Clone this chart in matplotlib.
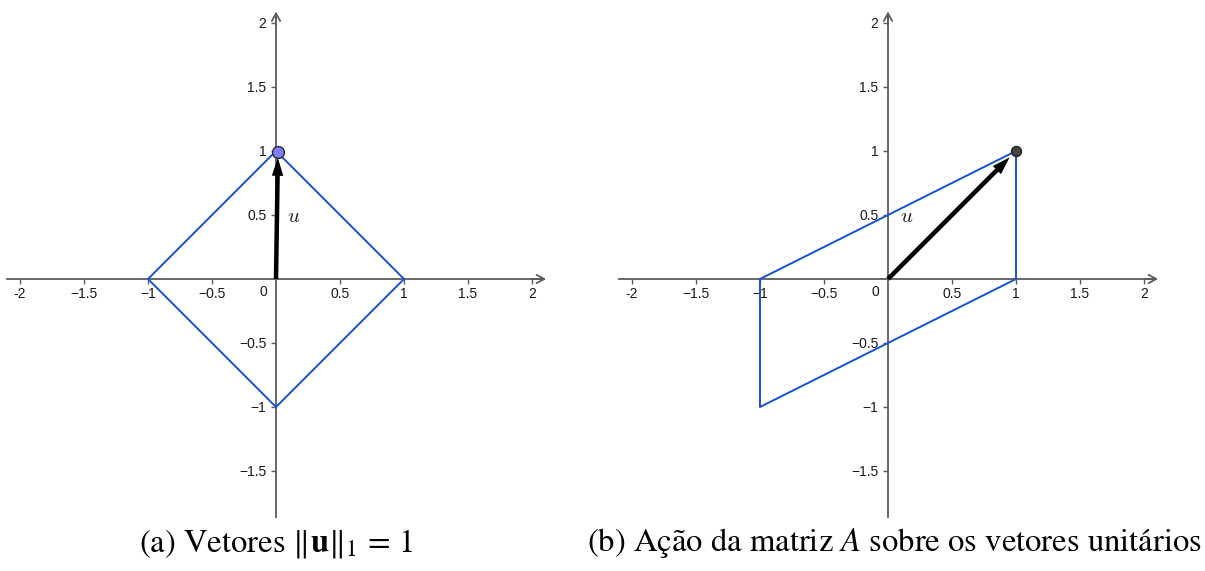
import numpy as np
import matplotlib
matplotlib.use("Agg")
import matplotlib.pyplot as plt
from matplotlib.patches import FancyArrow

# ---------------- data ----------------
tick_vals = [-2, -1.5, -1, -0.5, 0.5, 1, 1.5, 2]
xtick_labels = ["-2", "\u22121.5", "\u22121", "\u22120.5", "0.5", "1", "1.5", "2"]
ytick_vals = [-1.5, -1, -0.5, 0.5, 1, 1.5, 2]
ytick_labels = ["\u22121.5", "\u22121", "\u22120.5", "0.5", "1", "1.5", "2"]

# panel (a): unit ball of the 1-norm (diamond) and a vector u
diamond_x = [1, 0, -1, 0, 1]
diamond_y = [0, 1, 0, -1, 0]
u_a = (0.015, 0.99)

# panel (b): image of the diamond under A (parallelogram) and vector A u
para_x = [-1, 1, 1, -1, -1]
para_y = [0, 1, 0, -1, 0]
u_b = (1.0, 1.0)

captions = [r"(a) Vetores $\|\mathbf{u}\|_1\,=\,1$",
            r"(b) Ação da matriz $A$ sobre os vetores unitários"]

# ---------------- layout ----------------
W, H = 1205, 571
UNIT = 128.0          # pixels per data unit
fig = plt.figure(figsize=(W / 100, H / 100), dpi=100)

BLUE = "#1d4fd8"
AXC = "#5c5c5c"
TXT = "#1a1a1a"
TICKFONT = "Liberation Sans"


def make_panel(px_left, px_right, ox, oy, px_top=0, px_bottom=520):
    ax = fig.add_axes([px_left / W, (H - px_bottom) / H,
                       (px_right - px_left) / W, (px_bottom - px_top) / H])
    ax.set_xlim((px_left - ox) / UNIT, (px_right - ox) / UNIT)
    ax.set_ylim((oy - px_bottom) / UNIT, (oy - px_top) / UNIT)
    ax.patch.set_alpha(0)
    for s in ["top", "right"]:
        ax.spines[s].set_visible(False)
    ax.spines["bottom"].set_position(("data", 0))
    ax.spines["left"].set_position(("data", 0))
    ax.spines["bottom"].set_bounds(-2.1, 2.08)
    ax.spines["left"].set_bounds(-1.86, 2.07)
    for s in ["bottom", "left"]:
        ax.spines[s].set_color(AXC)
        ax.spines[s].set_linewidth(1.3)
    ax.set_xticks(tick_vals)
    ax.set_xticklabels(xtick_labels)
    ax.set_yticks(ytick_vals)
    ax.set_yticklabels(ytick_labels)
    ax.tick_params(axis="x", direction="out", length=3.5, width=1, color=AXC,
                   pad=2.5, labelsize=10, labelcolor=TXT)
    ax.tick_params(axis="y", direction="out", length=3.5, width=1, color=AXC,
                   pad=3.5, labelsize=10, labelcolor=TXT)
    for lab in ax.get_xticklabels() + ax.get_yticklabels():
        lab.set_fontfamily(TICKFONT)
    # arrow heads of the axes
    ax.annotate("", xy=(2.11, 0), xytext=(2.0, 0),
                arrowprops=dict(arrowstyle="->,head_length=0.55,head_width=0.3",
                                color=AXC, lw=1.3, shrinkA=0, shrinkB=0))
    ax.annotate("", xy=(0, 2.09), xytext=(0, 1.98),
                arrowprops=dict(arrowstyle="->,head_length=0.55,head_width=0.3",
                                color=AXC, lw=1.3, shrinkA=0, shrinkB=0))
    ax.text(-0.065, -0.05, "0", ha="right", va="top", fontsize=10,
            family=TICKFONT, color=TXT)
    return ax


def draw_vector(ax, u, gap_px, face, edge, ms):
    u = np.array(u, dtype=float)
    n = np.hypot(*u)
    tip = u * (1 - (gap_px / UNIT) / n)
    ax.add_patch(FancyArrow(0, 0, tip[0], tip[1], width=4.5 / UNIT,
                            head_width=11.5 / UNIT, head_length=18 / UNIT,
                            length_includes_head=True, color="black",
                            lw=0, zorder=4))
    ax.plot([u[0]], [u[1]], "o", ms=ms, mfc=face, mec=edge, mew=1.0, zorder=5)


# panel (a)
axa = make_panel(0, 560, 276, 279)
axa.plot(diamond_x, diamond_y, color=BLUE, lw=1.4, zorder=3)
draw_vector(axa, u_a, 5.5, "#7f7fff", "#2a2a2a", 8.5)
axa.text(0.085, 0.49, r"$u$", math_fontfamily="cm", fontsize=15,
         ha="left", va="center", color=TXT)

# panel (b)
axb = make_panel(600, 1205, 888, 279)
axb.plot(para_x, para_y, color=BLUE, lw=1.4, zorder=3)
draw_vector(axb, u_b, 9.0, "#444444", "#222222", 7.2)
axb.text(0.095, 0.49, r"$u$", math_fontfamily="cm", fontsize=15,
         ha="left", va="center", color=TXT)

# captions
for cx, cap in zip([276, 894], captions):
    fig.text(cx / W, (H - 551) / H, cap, ha="center", va="baseline",
             fontsize=23.5, family="STIXGeneral", math_fontfamily="stix",
             color="black")

fig.savefig("out.png", dpi=100)
